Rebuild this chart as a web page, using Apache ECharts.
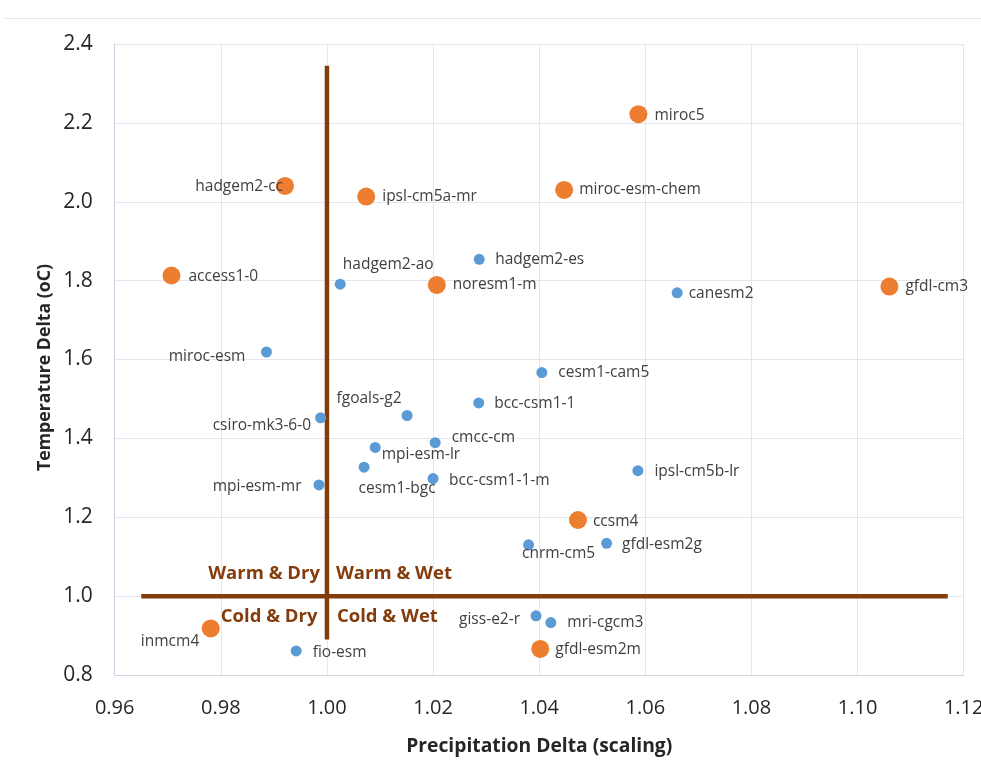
<!DOCTYPE html>
<html>
<head>
<meta charset="utf-8">
<title>Temperature vs Precipitation Delta</title>
<script src="https://cdn.jsdelivr.net/npm/echarts@6/dist/echarts.min.js"></script>
<style>
  html, body { margin: 0; padding: 0; background: #ffffff; }
  #chart { width: 981px; height: 763px; }
</style>
</head>
<body>
<div id="chart"></div>
<script>
// Highlighted models (large orange markers)
const highlightModels = ['miroc5', 'hadgem2-cc', 'ipsl-cm5a-mr', 'miroc-esm-chem', 'access1-0',
  'noresm1-m', 'gfdl-cm3', 'ccsm4', 'inmcm4', 'gfdl-esm2m'];
const highlightPrecip = [1.0587, 0.9921, 1.0074, 1.0447, 0.9707, 1.0207, 1.1060, 1.0473, 0.9781, 1.0402];
const highlightTemp = [2.222, 2.040, 2.013, 2.030, 1.813, 1.789, 1.785, 1.193, 0.918, 0.866];

// Remaining models (small blue markers)
const otherModels = ['hadgem2-ao', 'hadgem2-es', 'canesm2', 'miroc-esm', 'cesm1-cam5', 'fgoals-g2',
  'csiro-mk3-6-0', 'bcc-csm1-1', 'cmcc-cm', 'mpi-esm-lr', 'cesm1-bgc', 'mpi-esm-mr', 'bcc-csm1-1-m',
  'ipsl-cm5b-lr', 'cnrm-cm5', 'gfdl-esm2g', 'giss-e2-r', 'mri-cgcm3', 'fio-esm'];
const otherPrecip = [1.0025, 1.0287, 1.0660, 0.9886, 1.0405, 1.0151, 0.9988, 1.0286, 1.0204, 1.0091,
  1.0070, 0.9985, 1.0200, 1.0586, 1.0380, 1.0527, 1.0394, 1.0422, 0.9942];
const otherTemp = [1.791, 1.854, 1.769, 1.619, 1.567, 1.458, 1.452, 1.490, 1.389, 1.377,
  1.327, 1.282, 1.298, 1.318, 1.130, 1.134, 0.950, 0.933, 0.861];

// Axis ticks and titles
const xTicks = [0.96, 0.98, 1.00, 1.02, 1.04, 1.06, 1.08, 1.10, 1.12];
const yTicks = [0.8, 1.0, 1.2, 1.4, 1.6, 1.8, 2.0, 2.2, 2.4];
const xTitle = 'Precipitation Delta (scaling)';
const yTitle = 'Temperature Delta (oC)';

// Quadrant dividers (data coordinates)
const neutralPrecip = 1.00;
const neutralTemp = 1.00;
const dividerTempRange = [0.89, 2.345];
const dividerPrecipRange = [0.965, 1.117];

// Quadrant captions
const quadrantCaptions = ['Warm & Dry', 'Warm & Wet', 'Cold & Dry', 'Cold & Wet'];
const quadrantCaptionTemp = [1.058, 1.058, 0.948, 0.948];

const BROWN = '#843C0C';
const FONT = "'Open Sans', 'Noto Sans', sans-serif";

// Where each model name sits relative to its marker: [side, distance, dx, dy]
const labelPlacement = {
  'miroc5': ['right', 7, 0, 1],
  'hadgem2-cc': ['left', -7, 0, 1],
  'ipsl-cm5a-mr': ['right', 7, 0, 0],
  'miroc-esm-chem': ['right', 6, 0, 0],
  'access1-0': ['right', 8, 0, 1],
  'noresm1-m': ['right', 7, 0, 0],
  'gfdl-cm3': ['right', 7, 0, 0],
  'ccsm4': ['right', 6, 0, 1.5],
  'inmcm4': ['left', 2.5, 0, 13.5],
  'gfdl-esm2m': ['right', 6, 0, 0.5],
  'hadgem2-ao': ['top', 6.5, 48, 0],
  'hadgem2-es': ['right', 10.5, 0, 0],
  'canesm2': ['right', 6, 0, 1],
  'miroc-esm': ['left', 15.5, 0, 5],
  'cesm1-cam5': ['right', 11, 0, 0],
  'fgoals-g2': ['top', 3.5, -38, 0],
  'csiro-mk3-6-0': ['left', 4, 0, 8],
  'bcc-csm1-1': ['right', 10, 0, 0.5],
  'cmcc-cm': ['right', 11, 0, -5.5],
  'mpi-esm-lr': ['right', 1, 0, 7.5],
  'cesm1-bgc': ['bottom', 8, 33, 0],
  'mpi-esm-mr': ['left', 12, 0, 1.5],
  'bcc-csm1-1-m': ['right', 10.5, 0, 2],
  'ipsl-cm5b-lr': ['right', 11, 0, 1],
  'cnrm-cm5': ['bottom', -4.5, 30, 0],
  'gfdl-esm2g': ['right', 10, 0, 1.5],
  'giss-e2-r': ['left', 10.5, 0, 3.5],
  'mri-cgcm3': ['right', 11, 0, 0.5],
  'fio-esm': ['right', 11, 0, 1.3]
};

function buildPoints(names, xs, ys) {
  return names.map(function (name, i) {
    const p = labelPlacement[name] || ['right', 8, 0, 0];
    return {
      name: name,
      value: [xs[i], ys[i]],
      label: { position: p[0], distance: p[1], offset: [p[2], p[3]] }
    };
  });
}

const pointLabel = {
  show: true,
  formatter: '{b}',
  color: '#404040',
  opacity: 1,
  fontFamily: FONT,
  fontSize: 15.5
};

const chart = echarts.init(document.getElementById('chart'), null, { renderer: 'canvas' });

chart.setOption({
  animation: false,
  backgroundColor: '#ffffff',
  textStyle: { fontFamily: FONT },
  grid: { left: 114.7, right: 17.3, top: 44, bottom: 88, containLabel: false, outerBoundsMode: 'none' },
  graphic: [
    {
      // thin frame line above the plot
      type: 'line',
      shape: { x1: 4, y1: 18.5, x2: 981, y2: 18.5 },
      style: { stroke: '#e4e6ea', lineWidth: 1 },
      silent: true
    },
    {
      // vertical axis title
      type: 'text',
      x: 45,
      y: 367.5,
      rotation: Math.PI / 2,
      silent: true,
      style: {
        text: yTitle,
        fill: '#262626',
        font: "bold 17.7px 'Open Sans', 'Noto Sans', sans-serif",
        align: 'center',
        verticalAlign: 'middle'
      }
    }
  ],
  xAxis: {
    type: 'value',
    min: xTicks[0],
    max: xTicks[xTicks.length - 1],
    interval: 0.02,
    name: xTitle,
    nameLocation: 'middle',
    nameGap: 62,
    nameTextStyle: { fontFamily: FONT, fontSize: 19.3, fontWeight: 'bold', color: '#262626' },
    axisLine: { show: true, lineStyle: { color: '#cdd2e0', width: 1 } },
    axisTick: { show: false },
    axisLabel: {
      margin: 23,
      fontFamily: FONT,
      fontSize: 20,
      color: '#262626',
      formatter: function (v) { return v.toFixed(2); }
    },
    splitLine: { show: true, lineStyle: { color: '#e3e6ee', width: 1 } }
  },
  yAxis: {
    type: 'value',
    min: yTicks[0],
    max: yTicks[yTicks.length - 1],
    interval: 0.2,
    axisLine: { show: true, lineStyle: { color: '#cdd2e0', width: 1 } },
    axisTick: { show: false },
    axisLabel: {
      margin: 22,
      fontFamily: FONT,
      fontSize: 21,
      color: '#262626',
      formatter: function (v) { return v.toFixed(1); }
    },
    splitLine: { show: true, lineStyle: { color: '#e3e6ee', width: 1 } }
  },
  series: [
    {
      name: 'Dry / wet divider',
      type: 'line',
      silent: true,
      showSymbol: false,
      z: 1,
      lineStyle: { color: BROWN, width: 4.5, cap: 'butt', opacity: 1 },
      data: [[neutralPrecip, dividerTempRange[0]], [neutralPrecip, dividerTempRange[1]]]
    },
    {
      name: 'Warm / cold divider',
      type: 'line',
      silent: true,
      showSymbol: false,
      z: 1,
      lineStyle: { color: BROWN, width: 4.5, cap: 'butt', opacity: 1 },
      data: [[dividerPrecipRange[0], neutralTemp], [dividerPrecipRange[1], neutralTemp]]
    },
    {
      name: 'Quadrants',
      type: 'scatter',
      silent: true,
      symbolSize: 0,
      z: 2,
      itemStyle: { opacity: 1 },
      label: {
        show: true,
        formatter: '{b}',
        color: BROWN,
        opacity: 1,
        fontFamily: FONT,
        fontSize: 18.5,
        fontWeight: 'bold'
      },
      data: quadrantCaptions.map(function (text, i) {
        const leftSide = text.indexOf('Dry') >= 0;
        const isWarm = text.indexOf('Warm') === 0;
        return {
          name: text,
          value: [neutralPrecip, quadrantCaptionTemp[i]],
          label: {
            position: leftSide ? 'left' : 'right',
            distance: leftSide ? (isWarm ? 7 : 9.5) : (isWarm ? 9 : 10)
          }
        };
      })
    },
    {
      name: 'Other models',
      type: 'scatter',
      symbol: 'circle',
      symbolSize: 11,
      z: 3,
      itemStyle: { color: '#5B9BD5', opacity: 1 },
      label: pointLabel,
      emphasis: { disabled: true },
      data: buildPoints(otherModels, otherPrecip, otherTemp)
    },
    {
      name: 'Highlighted models',
      type: 'scatter',
      symbol: 'circle',
      symbolSize: 18,
      z: 4,
      itemStyle: { color: '#ED7D31', opacity: 1 },
      label: pointLabel,
      emphasis: { disabled: true },
      data: buildPoints(highlightModels, highlightPrecip, highlightTemp)
    }
  ]
});
</script>
</body>
</html>
